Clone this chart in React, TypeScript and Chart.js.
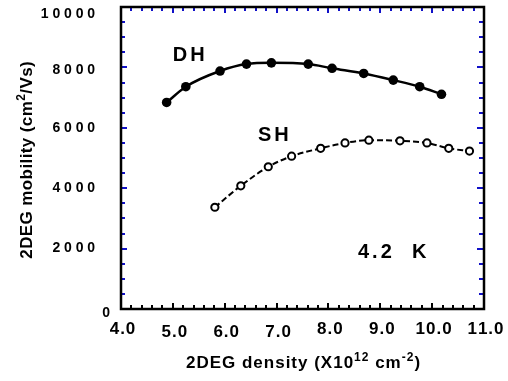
import { useEffect, useRef } from 'react';
import { Chart, registerables } from 'chart.js';

Chart.register(...registerables);

// ---- data ----
const dhDensity = [4.88, 5.25, 5.91, 6.42, 6.9, 7.61, 8.07, 8.68, 9.25, 9.76, 10.18];
const dhMobility = [6840, 7360, 7880, 8110, 8150, 8110, 7970, 7800, 7580, 7360, 7110];
const shDensity = [5.81, 6.31, 6.84, 7.29, 7.85, 8.32, 8.78, 9.38, 9.9, 10.32, 10.72];
const shMobility = [3370, 4080, 4710, 5060, 5320, 5500, 5590, 5570, 5500, 5320, 5230];

const xTickValues = [4, 5, 6, 7, 8, 9, 10, 11];
const xTickLabels = ['4.0', '5.0', '6.0', '7.0', '8.0', '9.0', '10.0', '11.0'];
const yTickValues = [0, 2000, 4000, 6000, 8000, 10000];
const yTickLabels = ['0', '2000', '4000', '6000', '8000', '10000'];

const seriesLabels = ['DH', 'SH'];
const tempLabel = '4.2  K';

const BLUE = '#1010c8';
const FONT = "'Liberation Sans', Arial, sans-serif";

type Seg = { t: string; sup?: boolean };

// width of text drawn char-by-char with extra spacing (no trailing spacing)
function spacedWidth(ctx: CanvasRenderingContext2D, t: string, sp: number) {
  let w = 0;
  for (const ch of t) w += ctx.measureText(ch).width + sp;
  return w - sp;
}
function drawSpaced(ctx: CanvasRenderingContext2D, t: string, x: number, y: number, sp: number) {
  let cx = x;
  for (const ch of t) {
    ctx.fillText(ch, cx, y);
    cx += ctx.measureText(ch).width + sp;
  }
}

function drawSegs(ctx: CanvasRenderingContext2D, segs: Seg[], size: number, sp: number, cx: number, cy: number) {
  const supSize = Math.round(size * 0.72);
  ctx.textAlign = 'left';
  ctx.textBaseline = 'alphabetic';
  let total = 0;
  const widths = segs.map((s) => {
    ctx.font = `bold ${s.sup ? supSize : size}px ${FONT}`;
    const w = spacedWidth(ctx, s.t, sp) + sp;
    total += w;
    return w;
  });
  total -= sp;
  let x = cx - total / 2;
  segs.forEach((s, i) => {
    ctx.font = `bold ${s.sup ? supSize : size}px ${FONT}`;
    drawSpaced(ctx, s.t, x, s.sup ? cy - size * 0.42 : cy, sp);
    x += widths[i];
  });
}

const decorPlugin = {
  id: 'decor',
  afterDraw(chart: any) {
    const { ctx, chartArea: a, scales } = chart;
    const xs = scales.x;
    const ys = scales.y;
    ctx.save();
    const seg = (x1: number, y1: number, x2: number, y2: number) => {
      ctx.beginPath();
      ctx.moveTo(x1, y1);
      ctx.lineTo(x2, y2);
      ctx.stroke();
    };
    ctx.lineWidth = 2;
    // x ticks (minor every 0.2)
    for (let i = 0; i <= 35; i++) {
      const v = 4 + i * 0.2;
      const px = Math.round(xs.getPixelForValue(v));
      const major = i % 5 === 0;
      ctx.strokeStyle = BLUE;
      seg(px, a.top, px, a.top + (major ? 6 : 4));
      ctx.strokeStyle = '#000';
      seg(px, a.bottom, px, a.bottom - (major ? 6 : 4));
    }
    // y ticks (minor every 500)
    for (let i = 0; i <= 20; i++) {
      const v = i * 500;
      const py = Math.round(ys.getPixelForValue(v));
      const major = i % 4 === 0;
      ctx.strokeStyle = BLUE;
      seg(a.left, py, a.left + (major ? 6 : 4), py);
      seg(a.right, py, a.right - (major ? 7 : 5), py);
    }
    // frame
    ctx.strokeStyle = '#000';
    ctx.lineWidth = 2.5;
    ctx.strokeRect(a.left, a.top, a.right - a.left, a.bottom - a.top);

    ctx.fillStyle = '#000';
    ctx.textAlign = 'left';
    // x tick labels (staggered as in the original)
    ctx.font = `bold 17px ${FONT}`;
    ctx.textBaseline = 'middle';
    xTickValues.forEach((v, i) => {
      const px = xs.getPixelForValue(v);
      const dy = i >= 1 && i <= 3 ? 23 : 20;
      const w = spacedWidth(ctx, xTickLabels[i], 1);
      drawSpaced(ctx, xTickLabels[i], px + 1.5 - w / 2, a.bottom + dy, 1);
    });
    // y tick labels (spaced digits)
    ctx.font = `bold 14px ${FONT}`;
    yTickValues.forEach((v, i) => {
      const py = ys.getPixelForValue(v);
      let dx = 0;
      let dy = 0;
      if (i === 0) { dx = 15; dy = 4; }
      if (i === yTickValues.length - 1) dy = 7;
      if (i === yTickValues.length - 2) dy = 3;
      const w = spacedWidth(ctx, yTickLabels[i], 3.8);
      drawSpaced(ctx, yTickLabels[i], a.left - 26 + dx - w, py + dy, 3.8);
    });

    // axis titles
    drawSegs(ctx, [
      { t: '2DEG density (X10' },
      { t: '12', sup: true },
      { t: ' cm' },
      { t: '-2', sup: true },
      { t: ')' },
    ], 17, 1, 303, 368);

    ctx.save();
    ctx.translate(32, 160);
    ctx.rotate(-Math.PI / 2);
    drawSegs(ctx, [
      { t: '2DEG mobility (cm' },
      { t: '2', sup: true },
      { t: '/Vs)' },
    ], 17, 0.4, 0, 0);
    ctx.restore();

    // annotations
    ctx.font = `bold 20px ${FONT}`;
    ctx.textAlign = 'left';
    ctx.textBaseline = 'alphabetic';
    drawSpaced(ctx, seriesLabels[0], xs.getPixelForValue(5.0), ys.getPixelForValue(8220), 3);
    drawSpaced(ctx, seriesLabels[1], xs.getPixelForValue(6.64), ys.getPixelForValue(5560), 3);
    drawSpaced(ctx, tempLabel, xs.getPixelForValue(8.57), ys.getPixelForValue(1690), 3);
    ctx.restore();
  },
};

export default function App() {
  const ref = useRef<HTMLCanvasElement>(null);
  useEffect(() => {
    const canvas = ref.current;
    if (!canvas) return;
    const chart = new Chart(canvas, {
      type: 'scatter',
      data: {
        datasets: [
          {
            label: seriesLabels[0],
            data: dhDensity.map((x, i) => ({ x, y: dhMobility[i] })),
            showLine: true,
            borderColor: '#000',
            borderWidth: 2.5,
            cubicInterpolationMode: 'monotone',
            pointRadius: 4.8,
            pointBackgroundColor: '#000',
            pointBorderColor: '#000',
            pointBorderWidth: 0,
          },
          {
            label: seriesLabels[1],
            data: shDensity.map((x, i) => ({ x, y: shMobility[i] })),
            showLine: true,
            borderColor: '#000',
            borderWidth: 2,
            borderDash: [6, 3],
            cubicInterpolationMode: 'monotone',
            pointRadius: 3.6,
            pointBackgroundColor: '#fff',
            pointBorderColor: '#000',
            pointBorderWidth: 2,
          },
        ],
      },
      options: {
        animation: false,
        responsive: false,
        maintainAspectRatio: false,
        layout: { padding: { top: 7, right: 24, left: 0, bottom: 0 } },
        plugins: { legend: { display: false }, tooltip: { enabled: false } },
        scales: {
          x: {
            type: 'linear',
            min: 4,
            max: 11,
            grid: { display: false, drawTicks: false },
            border: { display: false },
            ticks: { display: false, stepSize: 1 },
            afterFit: (s: any) => { s.height = 72; },
          },
          y: {
            type: 'linear',
            min: 0,
            max: 10000,
            grid: { display: false, drawTicks: false },
            border: { display: false },
            ticks: { display: false, stepSize: 2000 },
            afterFit: (s: any) => { s.width = 121; },
          },
        },
      },
      plugins: [decorPlugin],
    } as any);
    return () => chart.destroy();
  }, []);
  return (
    <div style={{ position: 'fixed', left: 0, top: 0, width: 508, height: 381, background: '#fff' }}>
      <canvas ref={ref} width={508} height={381} style={{ width: 508, height: 381, display: 'block' }} />
    </div>
  );
}
